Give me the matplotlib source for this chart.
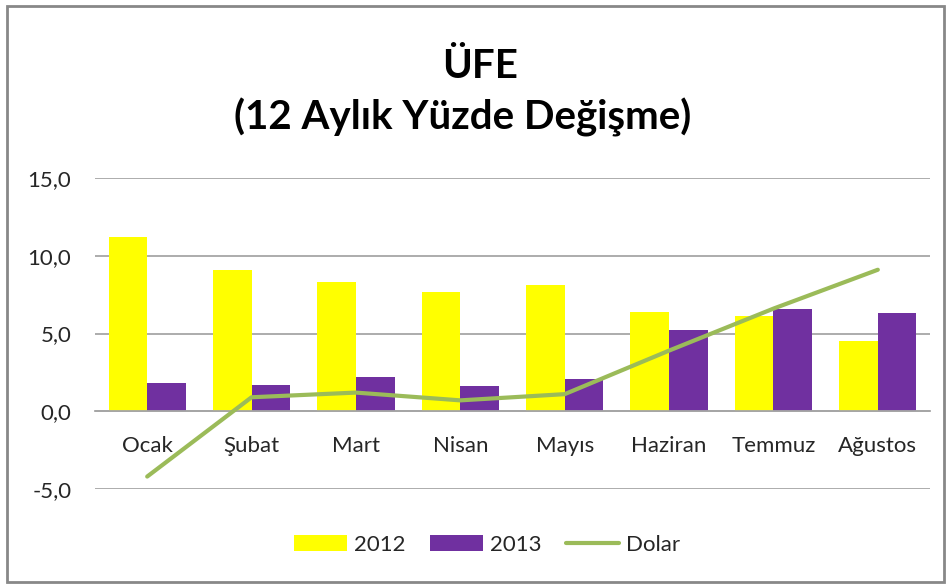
import matplotlib
matplotlib.use("Agg")
import matplotlib.pyplot as plt
from matplotlib.patches import Rectangle
import numpy as np

months = ["Ocak", "Şubat", "Mart", "Nisan", "Mayıs", "Haziran", "Temmuz", "Ağustos"]
y2012 = [11.2, 9.1, 8.3, 7.7, 8.1, 6.4, 6.1, 4.5]
y2013 = [1.8, 1.7, 2.2, 1.6, 2.1, 5.2, 6.6, 6.3]
dolar = [-4.2, 0.9, 1.2, 0.7, 1.1, 3.9, 6.6, 9.1]
yticks = [-5, 0, 5, 10, 15]
ytick_labels = ["-5,0", "0,0", "5,0", "10,0", "15,0"]

plt.rcParams['font.family'] = ['Lato', 'DejaVu Sans']

W, H = 947, 584
fig = plt.figure(figsize=(W / 100, H / 100), dpi=100)
fig.patch.set_facecolor("white")

# outer frame
fig.add_artist(Rectangle((7 / W, 1 - 582 / H), (944 - 7) / W, (582 - 6) / H,
                         transform=fig.transFigure, fill=False,
                         edgecolor="#888888", linewidth=2))

ax = fig.add_axes([95 / W, 1 - 489 / H, (930 - 95) / W, (489 - 178) / H])
x = np.arange(len(months))
bw = 0.37
b1 = ax.bar(x - bw / 2, y2012, width=bw, color="#FFFF00", label="2012", zorder=2)
b2 = ax.bar(x + bw / 2, y2013, width=bw, color="#7030A0", label="2013", zorder=2)
l1, = ax.plot(x, dolar, color="#9BBB59", linewidth=3, label="Dolar", zorder=3,
              solid_capstyle="round")

ax.set_xlim(-0.5, len(months) - 0.5)
ax.set_ylim(-5, 15)
ax.set_yticks(yticks)
ax.set_yticklabels(ytick_labels)
ax.yaxis.grid(True, color="#A6A6A6", linewidth=1.3, zorder=0)
ax.set_axisbelow(True)
for s in ["left", "right", "top"]:
    ax.spines[s].set_visible(False)
ax.spines["bottom"].set_position(("data", 0))
ax.spines["bottom"].set_color("#A6A6A6")
ax.spines["bottom"].set_linewidth(1.3)
ax.set_xticks(x)
ax.set_xticklabels(months)
ax.tick_params(axis="x", length=0, pad=18, labelsize=16, labelcolor="#262626")
ax.tick_params(axis="y", length=0, pad=17, labelsize=16, labelcolor="#262626")

fig.text(480 / W, 1 - 66 / H, "ÜFE", ha="center", va="center",
         fontsize=29, fontweight="bold", color="black")
fig.text(463 / W, 1 - 117 / H, "(12 Aylık Yüzde Değişme)", ha="center", va="center",
         fontsize=29, fontweight="bold", color="black")

fig.legend(handles=[b1, b2, l1], labels=["2012", "2013", "Dolar"],
           loc="center", bbox_to_anchor=(487 / W, 1 - 545 / H), ncol=3,
           frameon=False, fontsize=16, handlelength=2.4, handletextpad=0.3,
           columnspacing=1.1, labelcolor="#262626")

fig.savefig("out.png", dpi=100, facecolor="white")
